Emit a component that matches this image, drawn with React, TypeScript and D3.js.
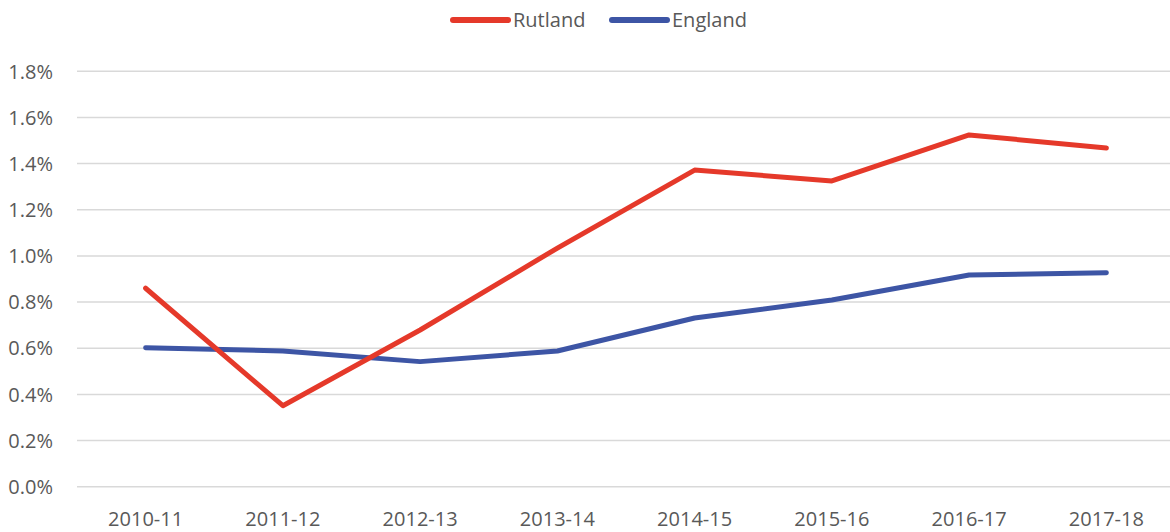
import React, { useEffect, useRef } from "react";
import * as d3 from "d3";

const years = ["2010-11", "2011-12", "2012-13", "2013-14", "2014-15", "2015-16", "2016-17", "2017-18"];
const rutland = [0.86, 0.351, 0.679, 1.034, 1.372, 1.325, 1.524, 1.468];
const england = [0.602, 0.588, 0.542, 0.588, 0.731, 0.809, 0.917, 0.927];
const yTicks = [0, 0.2, 0.4, 0.6, 0.8, 1.0, 1.2, 1.4, 1.6, 1.8];

const RED = "#E5392A";
const BLUE = "#3D55A5";

export default function App() {
  const ref = useRef<SVGSVGElement>(null);

  useEffect(() => {
    document.body.style.margin = "0";
    const width = 1170;
    const height = 532;
    const svg = d3.select(ref.current);
    svg.selectAll("*").remove();

    const x = d3.scaleBand().domain(years).range([77, 1175]);
    const cx = (d: string) => (x(d) as number) + x.bandwidth() / 2;
    const y = d3.scaleLinear().domain([0, 1.8]).range([486.7, 71.3]);

    const font = "'Open Sans', sans-serif";

    // gridlines
    svg
      .append("g")
      .selectAll("line")
      .data(yTicks)
      .enter()
      .append("line")
      .attr("x1", 77)
      .attr("x2", width)
      .attr("y1", (d) => y(d))
      .attr("y2", (d) => y(d))
      .attr("stroke", "#D9D9D9")
      .attr("stroke-width", 1.5);

    // y labels
    svg
      .append("g")
      .selectAll("text")
      .data(yTicks)
      .enter()
      .append("text")
      .attr("x", 53)
      .attr("y", (d) => y(d))
      .attr("dy", "0.36em")
      .attr("text-anchor", "end")
      .attr("font-family", font)
      .attr("font-size", 20)
      .attr("fill", "#595959")
      .text((d) => d.toFixed(1) + "%");

    // x labels
    svg
      .append("g")
      .selectAll("text")
      .data(years)
      .enter()
      .append("text")
      .attr("x", (d) => cx(d))
      .attr("y", 526)
      .attr("text-anchor", "middle")
      .attr("font-family", font)
      .attr("font-size", 20)
      .attr("fill", "#595959")
      .text((d) => d);

    const series = [
      { name: "Rutland", values: rutland, color: RED },
      { name: "England", values: england, color: BLUE },
    ];

    const line = d3
      .line<number>()
      .x((_, i) => cx(years[i]))
      .y((d) => y(d));

    series
      .slice()
      .reverse()
      .forEach((s) => {
        svg
          .append("path")
          .datum(s.values)
          .attr("fill", "none")
          .attr("stroke", s.color)
          .attr("stroke-width", 5)
          .attr("stroke-linejoin", "round")
          .attr("stroke-linecap", "round")
          .attr("d", line);
      });

    // legend
    const legendX = [453, 612];
    series.forEach((s, i) => {
      const g = svg.append("g").attr("transform", `translate(${legendX[i]},20)`);
      g.append("line")
        .attr("x1", 0)
        .attr("x2", 55)
        .attr("y1", 0)
        .attr("y2", 0)
        .attr("stroke", s.color)
        .attr("stroke-width", 6)
        .attr("stroke-linecap", "round");
      g.append("text")
        .attr("x", 60)
        .attr("y", 7)
        .attr("font-family", font)
        .attr("font-size", 20)
        .attr("fill", "#595959")
        .text(s.name);
    });
  }, []);

  return <svg ref={ref} width={1170} height={532} style={{ display: "block" }} />;
}
